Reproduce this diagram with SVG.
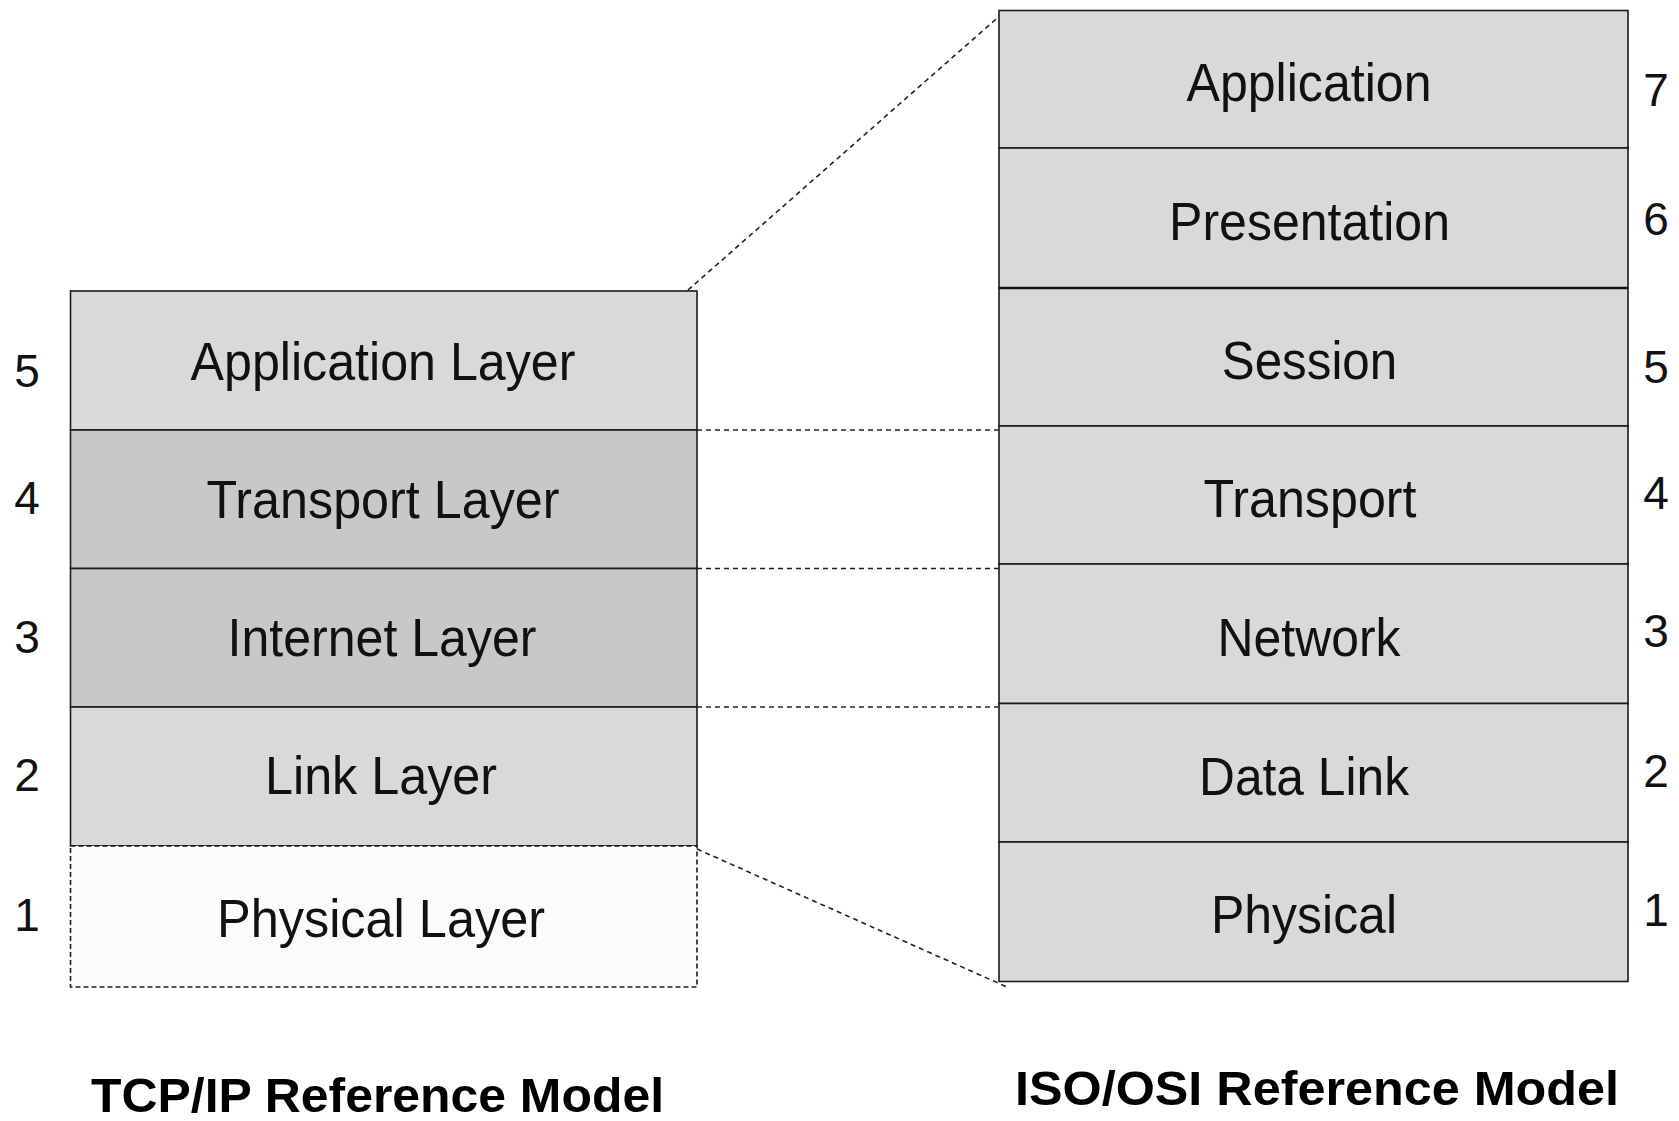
<svg xmlns="http://www.w3.org/2000/svg" width="1679" height="1121" viewBox="0 0 1679 1121">
<style>
.l{fill:#d9d9d9;stroke:#1a1a1a;stroke-width:1.6}
.d{fill:#c8c8c8;stroke:#1a1a1a;stroke-width:1.6}
.p{fill:#fbfbfb;stroke:#1a1a1a;stroke-width:1.6;stroke-dasharray:5 3}
.t{font-family:"Liberation Sans",Arial,sans-serif;font-size:53px;fill:#111;text-anchor:middle}
.n{font-family:"Liberation Sans",Arial,sans-serif;font-size:46px;fill:#111;text-anchor:middle}
.h{font-family:"Liberation Sans",Arial,sans-serif;font-size:48px;font-weight:bold;fill:#000;text-anchor:middle}
.c{fill:none;stroke:#222;stroke-width:1.6;stroke-dasharray:5 4}
</style>
<g id="connectors">
<line class="c" x1="688" y1="290" x2="1003" y2="13"/>
<line class="c" x1="697" y1="430" x2="1008" y2="430"/>
<line class="c" x1="697" y1="568.5" x2="1008" y2="568.5"/>
<line class="c" x1="697" y1="707" x2="1008" y2="707"/>
<line class="c" x1="697" y1="849" x2="1007" y2="987"/>
</g>
<g id="tcp-application"><rect class="l" x="70.5" y="291" width="626.5" height="139"/><text class="t" x="383" y="379.5" textLength="385" lengthAdjust="spacingAndGlyphs">Application Layer</text></g>
<g id="tcp-transport"><rect class="d" x="70.5" y="430" width="626.5" height="138.5"/><text class="t" x="383" y="518" textLength="353" lengthAdjust="spacingAndGlyphs">Transport Layer</text></g>
<g id="tcp-internet"><rect class="d" x="70.5" y="568.5" width="626.5" height="138.5"/><text class="t" x="382" y="656" textLength="309" lengthAdjust="spacingAndGlyphs">Internet Layer</text></g>
<g id="tcp-link"><rect class="l" x="70.5" y="707" width="626.5" height="139"/><text class="t" x="381" y="794" textLength="232" lengthAdjust="spacingAndGlyphs">Link Layer</text></g>
<g id="tcp-physical"><rect class="p" x="70.5" y="846" width="626.5" height="141"/><text class="t" x="381" y="937" textLength="328" lengthAdjust="spacingAndGlyphs">Physical Layer</text></g>
<g id="tcp-numbers">
<text class="n" x="27" y="387">5</text>
<text class="n" x="27" y="514">4</text>
<text class="n" x="27" y="653">3</text>
<text class="n" x="27" y="791">2</text>
<text class="n" x="27" y="931">1</text>
</g>
<g id="osi-application"><rect class="l" x="999" y="10.5" width="629" height="137.5"/><text class="t" x="1309" y="101" textLength="245" lengthAdjust="spacingAndGlyphs">Application</text></g>
<g id="osi-presentation"><rect class="l" x="999" y="148" width="629" height="140"/><text class="t" x="1309.5" y="240" textLength="281" lengthAdjust="spacingAndGlyphs">Presentation</text></g>
<g id="osi-session"><rect class="l" x="999" y="288" width="629" height="138"/><line x1="999" y1="288" x2="1628" y2="288" stroke="#111" stroke-width="2.6"/><text class="t" x="1309.5" y="379" textLength="175.5" lengthAdjust="spacingAndGlyphs">Session</text></g>
<g id="osi-transport"><rect class="l" x="999" y="426" width="629" height="138"/><text class="t" x="1310" y="517" textLength="213" lengthAdjust="spacingAndGlyphs">Transport</text></g>
<g id="osi-network"><rect class="l" x="999" y="564" width="629" height="139.5"/><text class="t" x="1309" y="656" textLength="183" lengthAdjust="spacingAndGlyphs">Network</text></g>
<g id="osi-datalink"><rect class="l" x="999" y="703.5" width="629" height="138.5"/><text class="t" x="1304" y="795" textLength="210" lengthAdjust="spacingAndGlyphs">Data Link</text></g>
<g id="osi-physical"><rect class="l" x="999" y="842" width="629" height="139.5"/><text class="t" x="1304" y="933" textLength="186" lengthAdjust="spacingAndGlyphs">Physical</text></g>
<g id="osi-numbers">
<text class="n" x="1656" y="106">7</text>
<text class="n" x="1656" y="235">6</text>
<text class="n" x="1656" y="383">5</text>
<text class="n" x="1656" y="509">4</text>
<text class="n" x="1656" y="647">3</text>
<text class="n" x="1656" y="787">2</text>
<text class="n" x="1656" y="926">1</text>
</g>
<g id="titles">
<text class="h" x="377.5" y="1112" textLength="573" lengthAdjust="spacingAndGlyphs">TCP/IP Reference Model</text>
<text class="h" x="1317" y="1105" textLength="604" lengthAdjust="spacingAndGlyphs">ISO/OSI Reference Model</text>
</g>
</svg>
